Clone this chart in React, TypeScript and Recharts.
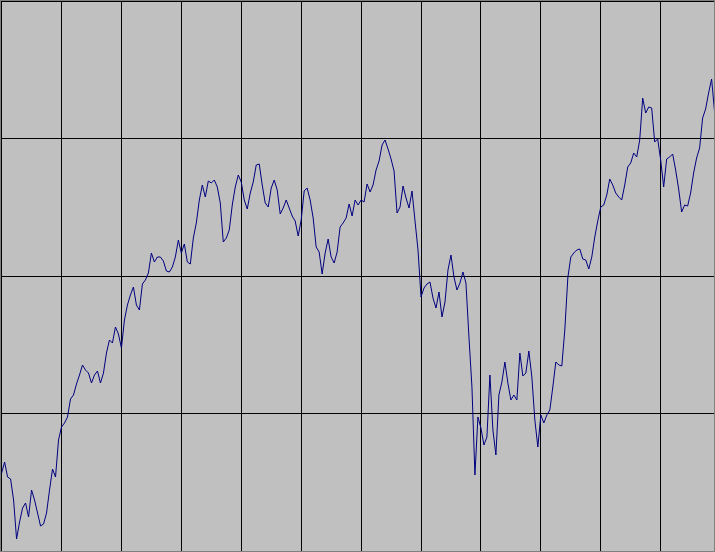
import React from "react";
import { LineChart, Line, XAxis, YAxis, CartesianGrid } from "recharts";

// Series values, one per trading step (index 0..238)
const seriesValues: number[] = [
  78, 89, 74, 72, 51, 12, 29, 43, 48, 34,
  61, 51, 38, 25, 27, 38, 61, 82, 74, 111,
  124, 128, 134, 152, 156, 167, 176, 186, 181, 178,
  168, 176, 180, 168, 178, 198, 211, 208, 224, 217,
  203, 231, 246, 256, 264, 246, 241, 267, 271, 278,
  298, 289, 294, 294, 290, 280, 279, 284, 294, 311,
  298, 307, 289, 287, 313, 328, 351, 366, 354, 370,
  368, 371, 364, 348, 309, 313, 321, 346, 364, 376,
  369, 351, 342, 358, 369, 386, 387, 366, 348, 344,
  363, 371, 361, 337, 343, 351, 343, 335, 330, 315,
  331, 360, 363, 351, 333, 304, 299, 277, 298, 312,
  294, 288, 299, 324, 328, 333, 347, 335, 351, 346,
  351, 349, 367, 359, 366, 381, 390, 406, 411, 402,
  392, 380, 338, 344, 365, 353, 343, 360, 330, 301,
  254, 263, 267, 269, 253, 243, 259, 234, 249, 281,
  296, 274, 261, 268, 279, 268, 214, 164, 76, 134,
  123, 106, 114, 176, 121, 96, 156, 169, 189, 168,
  151, 156, 151, 198, 175, 178, 200, 174, 131, 104,
  136, 128, 136, 141, 164, 189, 186, 185, 221, 273,
  294, 298, 301, 302, 292, 291, 282, 294, 314, 330,
  344, 346, 356, 372, 366, 358, 354, 351, 366, 384,
  388, 398, 394, 411, 453, 438, 444, 443, 409, 412,
  391, 364, 392, 394, 397, 381, 362, 339, 346, 345,
  358, 378, 393, 403, 433, 442, 458, 472, 439,
];

// Grid tick positions
const xTicks: number[] = [20, 40, 60, 80, 100, 120, 140, 160, 180, 200, 220];
const yTicks: number[] = [137.5, 275, 412.5];
const xDomain: [number, number] = [-0.2, 237.8];
const yDomain: [number, number] = [0, 550];

const data = seriesValues.map((v, i) => ({ i, v }));

export default function App() {
  return (
    <div
      style={{
        position: "absolute",
        left: 0,
        top: 0,
        width: 715,
        height: 552,
        boxSizing: "border-box",
        border: "1px solid #808080",
        background: "#c0c0c0",
        overflow: "hidden",
      }}
    >
      <style>{`.recharts-cartesian-grid line{shape-rendering:crispEdges}`}</style>
      <LineChart
        width={713}
        height={550}
        data={data}
        margin={{ top: 0, right: 0, bottom: 0, left: 0 }}
      >
        <XAxis
          type="number"
          dataKey="i"
          domain={xDomain}
          ticks={xTicks}
          allowDataOverflow
          hide
        />
        <YAxis type="number" domain={yDomain} ticks={yTicks} allowDataOverflow hide />
        <CartesianGrid stroke="#000000" strokeOpacity={1} strokeWidth={1} />
        <Line
          type="linear"
          dataKey="v"
          stroke="#000080"
          strokeWidth={1}
          dot={false}
          isAnimationActive={false}
        />
      </LineChart>
    </div>
  );
}
